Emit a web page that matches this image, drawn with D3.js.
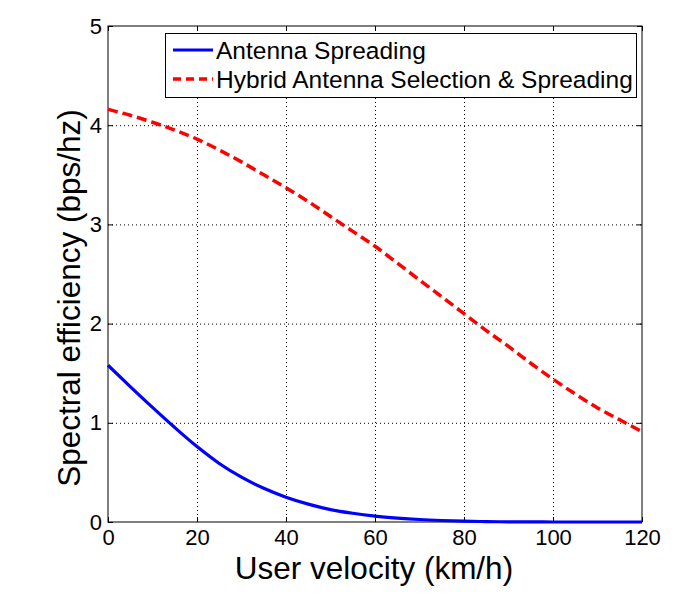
<!DOCTYPE html>
<html>
<head>
<meta charset="utf-8">
<script src="https://cdn.jsdelivr.net/npm/d3@7"></script>
<style>
  body { margin: 0; background: #fff; }
  svg { display: block; font-family: Arial, "Liberation Sans", sans-serif; }
</style>
</head>
<body>
<svg id="chart" width="690" height="609"></svg>
<script>
// ---- data ----
const velocity = [0,5,10,15,20,25,30,35,40,45,50,55,60,65,70,75,80,85,90,95,100,105,110,115,120];
const antennaSpreading = [1.58,1.365,1.155,0.952,0.76,0.59,0.452,0.34,0.25,0.18,0.125,0.088,0.06,0.04,0.025,0.015,0.008,0.004,0.002,0.001,0,0,0,0,0];
const hybridSelection = [4.16,4.10,4.03,3.95,3.86,3.75,3.63,3.50,3.37,3.23,3.08,2.93,2.78,2.61,2.44,2.27,2.10,1.93,1.77,1.60,1.44,1.29,1.15,1.03,0.91];
const seriesNames = ["Antenna Spreading", "Hybrid Antenna Selection & Spreading"];
const xTicks = [0,20,40,60,80,100,120];
const yTicks = [0,1,2,3,4,5];
const xLabel = "User velocity (km/h)";
const yLabel = "Spectral efficiency (bps/hz)";

// ---- layout ----
const svg = d3.select("#chart");
const L = 108, R = 642, T = 26, B = 522;
const x = d3.scaleLinear().domain([0,120]).range([L,R]);
const y = d3.scaleLinear().domain([0,5]).range([B,T]);
const FONT = "Arial, 'Liberation Sans', sans-serif";

// grid
const grid = svg.append("g");
grid.selectAll(".gx").data(xTicks.slice(1,-1)).enter().append("line")
  .attr("x1", d=>x(d)+0.5).attr("x2", d=>x(d)+0.5).attr("y1", T).attr("y2", B)
  .attr("stroke", "#000").attr("stroke-width", 1).attr("stroke-dasharray", "1,3");
grid.selectAll(".gy").data(yTicks.slice(1,-1)).enter().append("line")
  .attr("y1", d=>y(d)+0.5).attr("y2", d=>y(d)+0.5).attr("x1", L).attr("x2", R)
  .attr("stroke", "#000").attr("stroke-width", 1).attr("stroke-dasharray", "1,3");

// axes (ticks inward)
const fs = "22px";
const fmt = d3.format("d");
const xAxisB = d3.axisBottom(x).tickValues(xTicks).tickFormat(fmt).tickSizeInner(-5).tickSizeOuter(0).tickPadding(7);
const gxb = svg.append("g").attr("transform", `translate(0,${B})`).call(xAxisB);
gxb.selectAll("text").attr("font-size", fs).attr("fill", "#000").attr("font-family", FONT);
const xAxisT = d3.axisTop(x).tickValues(xTicks).tickSizeInner(-5).tickSizeOuter(0).tickFormat("");
svg.append("g").attr("transform", `translate(0,${T})`).call(xAxisT);
const yAxisL = d3.axisLeft(y).tickValues(yTicks).tickFormat(fmt).tickSizeInner(-5).tickSizeOuter(0).tickPadding(6);
const gyl = svg.append("g").attr("transform", `translate(${L},0)`).call(yAxisL);
gyl.selectAll("text").attr("font-size", fs).attr("fill", "#000").attr("font-family", FONT);
const yAxisR = d3.axisRight(y).tickValues(yTicks).tickSizeInner(-5).tickSizeOuter(0).tickFormat("");
svg.append("g").attr("transform", `translate(${R},0)`).call(yAxisR);
svg.selectAll(".domain").remove();
svg.selectAll(".tick line").attr("stroke", "#000");

// box
svg.append("rect").attr("x", L).attr("y", T).attr("width", R-L).attr("height", B-T)
  .attr("fill", "none").attr("stroke", "#000").attr("stroke-width", 1);

// lines
const line = d3.line().x(d=>x(d[0])).y(d=>y(d[1])).curve(d3.curveMonotoneX);
svg.append("path").datum(velocity.map((v,i)=>[v, antennaSpreading[i]]))
  .attr("d", line).attr("fill","none").attr("stroke","#0000ff").attr("stroke-width",3.2);
svg.append("path").datum(velocity.map((v,i)=>[v, hybridSelection[i]]))
  .attr("d", line).attr("fill","none").attr("stroke","#ff0000").attr("stroke-width",3.5)
  .attr("stroke-dasharray","10,5");

// legend
const lg = svg.append("g");
lg.append("rect").attr("x", 165.5).attr("y", 33.5).attr("width", 471).attr("height", 64)
  .attr("fill", "#fff").attr("stroke", "#000").attr("stroke-width", 1);
const styles = [{c:"#0000ff", w:3.2, d:null}, {c:"#ff0000", w:3.5, d:"8,5"}];
seriesNames.forEach((n,i)=>{
  const cy = 50 + i*29;
  const ln = lg.append("line").attr("x1",173).attr("x2",213).attr("y1",cy).attr("y2",cy)
    .attr("stroke", styles[i].c).attr("stroke-width", styles[i].w);
  if (styles[i].d) ln.attr("stroke-dasharray", styles[i].d);
  lg.append("text").attr("x", 216).attr("y", cy).attr("dy","0.35em")
    .attr("font-size","24.5px").attr("fill","#000").text(n);
});

// axis labels
svg.append("text").attr("x", (L+R)/2 - 1).attr("y", 579).attr("text-anchor","middle")
  .attr("font-size","31.5px").attr("fill","#000").text(xLabel);
svg.append("text").attr("transform", `translate(80,${(T+B)/2 + 24}) rotate(-90)`)
  .attr("text-anchor","middle").attr("font-size","31.5px").attr("fill","#000").text(yLabel);
</script>
</body>
</html>
